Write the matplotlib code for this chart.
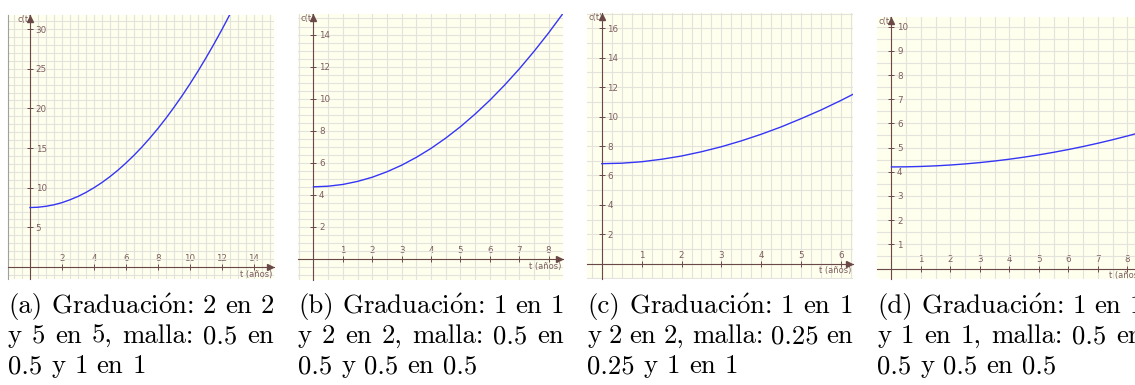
import matplotlib.pyplot as plt
from matplotlib.ticker import FixedLocator, MultipleLocator

plt.rcParams['mathtext.fontset'] = 'cm'

# ---------- data: c(t) read per panel ----------
t_a = [0, 0.5, 1, 1.5, 2, 2.5, 3, 3.5, 4, 4.5, 5, 5.5, 6, 6.5, 7, 7.5, 8, 8.5,
       9, 9.5, 10, 10.5, 11, 11.5, 12, 12.5, 13]
c_a = [7.5, 7.54, 7.66, 7.85, 8.12, 8.48, 8.9, 9.41, 10.0, 10.66, 11.4, 12.22,
       13.12, 14.09, 15.14, 16.28, 17.48, 18.77, 20.14, 21.58, 23.1, 24.7,
       26.38, 28.13, 29.96, 31.88, 33.86]

t_b = [0, 0.5, 1, 1.5, 2, 2.5, 3, 3.5, 4, 4.5, 5, 5.5, 6, 6.5, 7, 7.5, 8, 8.5, 9]
c_b = [4.5, 4.54, 4.65, 4.84, 5.1, 5.44, 5.85, 6.34, 6.9, 7.54, 8.25, 9.04,
       9.9, 10.84, 11.85, 12.94, 14.1, 15.34, 16.65]

t_c = [0, 0.5, 1, 1.5, 2, 2.5, 3, 3.5, 4, 4.5, 5, 5.5, 6, 6.5]
c_c = [6.8, 6.83, 6.93, 7.10, 7.32, 7.61, 7.95, 8.35, 8.80, 9.30, 9.86, 10.45,
       11.10, 11.79]

t_d = [0, 0.5, 1, 1.5, 2, 2.5, 3, 3.5, 4, 4.5, 5, 5.5, 6, 6.5, 7, 7.5, 8, 8.5]
c_d = [4.2, 4.205, 4.22, 4.245, 4.28, 4.325, 4.38, 4.445, 4.52, 4.605, 4.7,
       4.805, 4.92, 5.045, 5.18, 5.325, 5.48, 5.645]

# tick labels (graduación) and grid spacing (malla)
xticks_a = [2, 4, 6, 8, 10, 12, 14]
yticks_a = [5, 10, 15, 20, 25, 30]
xticks_b = [1, 2, 3, 4, 5, 6, 7, 8]
yticks_b = [2, 4, 6, 8, 10, 12, 14]
xticks_c = [1, 2, 3, 4, 5, 6]
yticks_c = [2, 4, 6, 8, 10, 12, 14, 16]
xticks_d = [1, 2, 3, 4, 5, 6, 7, 8]
yticks_d = [1, 2, 3, 4, 5, 6, 7, 8, 9, 10]

captions = [
    ["(a) Graduaci$\\mathrm{\\acute{o}}$n: 2 en 2", "y 5 en 5, malla: 0.5 en", "0.5 y 1 en 1"],
    ["(b) Graduaci$\\mathrm{\\acute{o}}$n: 1 en 1", "y 2 en 2, malla: 0.5 en", "0.5 y 0.5 en 0.5"],
    ["(c) Graduaci$\\mathrm{\\acute{o}}$n: 1 en 1", "y 2 en 2, malla: 0.25 en", "0.25 y 1 en 1"],
    ["(d) Graduaci$\\mathrm{\\acute{o}}$n: 1 en 1", "y 1 en 1, malla: 0.5 en", "0.5 y 0.5 en 0.5"],
]

BG = '#FFFFEE'
GRID = '#E3E3DC'
AXIS = '#6B4848'
LABEL = '#7D5E5E'
CURVE = '#3535F5'

W, H = 1135, 385
fig = plt.figure(figsize=(W / 100, H / 100), dpi=100)


def panel(box, t, c, xticks, yticks, xgrid, ygrid, xlim, ylim):
    left, top, right, bottom = box
    ax = fig.add_axes([left / W, 1 - bottom / H, (right - left) / W, (bottom - top) / H])
    ax.set_facecolor(BG)
    ax.plot(t, c, color=CURVE, lw=1.0, zorder=3)
    ax.set_xlim(xlim)
    ax.set_ylim(ylim)

    ax.xaxis.set_major_locator(FixedLocator(xticks))
    ax.yaxis.set_major_locator(FixedLocator(yticks))
    ax.set_xticklabels([str(v) for v in xticks])
    ax.set_yticklabels([str(v) for v in yticks])
    ax.xaxis.set_minor_locator(MultipleLocator(xgrid))
    ax.yaxis.set_minor_locator(MultipleLocator(ygrid))
    ax.grid(which='both', color=GRID, lw=0.8)
    ax.set_axisbelow(True)

    # axes through the origin, labels above / to the right
    ax.spines['left'].set_visible(False)
    ax.spines['bottom'].set_visible(False)
    ax.spines['top'].set_position(('data', 0))
    ax.spines['right'].set_position(('data', 0))
    ax.spines['top'].set_color(AXIS)
    ax.spines['right'].set_color(AXIS)
    ax.spines['top'].set_linewidth(0.8)
    ax.spines['right'].set_linewidth(0.8)
    ax.xaxis.tick_top()
    ax.yaxis.tick_right()
    ax.tick_params(which='major', direction='inout', length=4, width=0.7,
                   color=AXIS, labelcolor=LABEL, labelsize=6.3)
    ax.tick_params(axis='x', which='major', pad=1)
    ax.tick_params(axis='y', which='major', pad=2)
    ax.tick_params(which='minor', length=0)

    # arrow heads and axis names
    ax.plot(0.985, 0, marker='>', ms=4, color=AXIS, transform=ax.get_yaxis_transform(),
            clip_on=False, zorder=4)
    ax.plot(0, 0.985, marker='^', ms=4, color=AXIS, transform=ax.get_xaxis_transform(),
            clip_on=False, zorder=4)
    ax.annotate('t (años)', xy=(1, 0), xycoords=ax.get_yaxis_transform(),
                xytext=(-1, -2), textcoords='offset points', ha='right', va='top',
                fontsize=6, color=LABEL)
    ax.annotate('c(t)', xy=(0, 1), xycoords=ax.get_xaxis_transform(),
                xytext=(1, 0), textcoords='offset points', ha='right', va='top',
                fontsize=6, color=LABEL)
    return ax


ax_a = panel((8, 15, 274, 279), t_a, c_a, xticks_a, yticks_a, 0.5, 1,
             (-1.375, 15.25), (-1.51, 31.78))
ax_a.spines['left'].set_visible(True)
ax_a.spines['left'].set_color('#A0A0A0')
ax_a.spines['left'].set_linewidth(0.8)

panel((298, 14, 563, 280), t_b, c_b, xticks_b, yticks_b, 0.5, 0.5,
      (-0.527, 8.49), (-1.31, 15.28))
panel((587, 13, 853, 279), t_c, c_c, xticks_c, yticks_c, 0.25, 1,
      (-0.371, 6.30), (-1.04, 17.04))
panel((877, 17, 1143, 279), t_d, c_d, xticks_d, yticks_d, 0.5, 0.5,
      (-0.49, 8.53), (-0.434, 10.40))

# captions under each graph, first two lines justified to the graph width
renderer = fig.canvas.get_renderer()
cap_x = [8, 298, 587, 877]
cap_w = 266
baselines = [313, 343, 373]
for x, lines in zip(cap_x, captions):
    for i, (y, line) in enumerate(zip(baselines, lines)):
        words = line.split(' ')
        texts = [fig.text(0, 1 - y / H, w, family='cmr10', fontsize=19.3,
                          va='baseline', ha='left', color='black') for w in words]
        widths = [tx.get_window_extent(renderer).width for tx in texts]
        if i < 2:
            gap = (cap_w - sum(widths)) / (len(words) - 1)
        else:
            gap = 0.333 * 19.3 * 100 / 72
        cx = x
        for tx, w in zip(texts, widths):
            tx.set_x(cx / W)
            cx += w + gap

fig.savefig('out.png', dpi=100)
